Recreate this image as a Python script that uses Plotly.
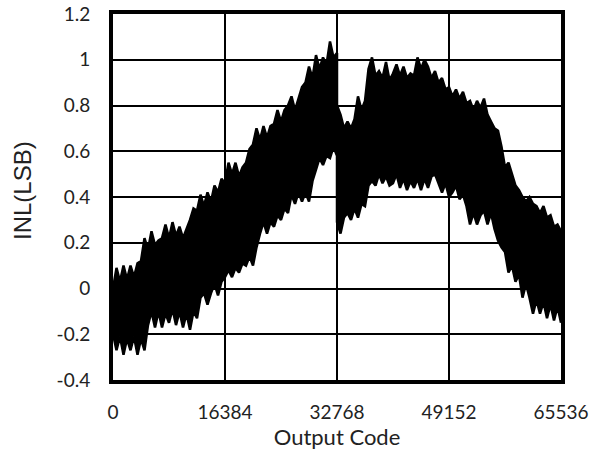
import plotly.graph_objects as go

# Output code positions (step 512 codes); 32768 appears twice for the jump there
codes = list(range(0, 32769, 512)) + list(range(32768, 65537, 512))

# Upper envelope of the INL band (LSB)
inl_upper = [
    0.00, 0.09, 0.03, 0.10, 0.04, 0.10, 0.05, 0.11, 0.12, 0.22,
    0.17, 0.25, 0.19, 0.21, 0.22, 0.28, 0.22, 0.29, 0.23, 0.27,
    0.22, 0.26, 0.30, 0.35, 0.34, 0.41, 0.36, 0.42, 0.38, 0.45,
    0.42, 0.48, 0.46, 0.55, 0.50, 0.55, 0.49, 0.53, 0.55, 0.61,
    0.63, 0.70, 0.65, 0.71, 0.66, 0.71, 0.72, 0.78, 0.73, 0.78,
    0.80, 0.84, 0.78, 0.83, 0.88, 0.90, 0.97, 0.92, 1.02, 0.96,
    1.01, 0.98, 1.08, 1.01, 1.03,
    0.80, 0.76, 0.70, 0.73, 0.70, 0.74,
    0.84, 0.78, 0.82, 0.96, 1.01, 0.93, 0.95, 0.92, 0.99, 0.91,
    0.94, 0.98, 0.93, 0.97, 0.92, 0.94, 0.93, 1.01, 0.96, 1.00,
    0.97, 0.92, 0.95, 0.90, 0.92, 0.87, 0.88, 0.84, 0.87, 0.83,
    0.86, 0.81, 0.82, 0.78, 0.82, 0.79, 0.83, 0.76, 0.73, 0.70,
    0.69, 0.62, 0.53, 0.55, 0.50, 0.45, 0.43, 0.40, 0.38, 0.40,
    0.37, 0.36, 0.33, 0.36, 0.31, 0.32, 0.27, 0.28, 0.25,
]

# Lower envelope of the INL band (LSB)
inl_lower = [
    -0.20, -0.27, -0.21, -0.29, -0.22, -0.27, -0.21, -0.29, -0.22, -0.27,
    -0.16, -0.10, -0.17, -0.10, -0.17, -0.11, -0.15, -0.09, -0.16, -0.10,
    -0.17, -0.11, -0.18, -0.10, -0.13, -0.04, -0.02, -0.07, -0.02, 0.02,
    -0.03, 0.03, 0.05, 0.08, 0.05, 0.09, 0.07, 0.11, 0.10, 0.14,
    0.10, 0.18, 0.24, 0.29, 0.24, 0.29, 0.27, 0.32, 0.30, 0.35,
    0.33, 0.41, 0.37, 0.42, 0.38, 0.42, 0.38, 0.47, 0.52, 0.57,
    0.54, 0.58, 0.57, 0.62, 0.58,
    0.29, 0.24, 0.31, 0.33, 0.30, 0.35,
    0.31, 0.37, 0.36, 0.45, 0.47, 0.45, 0.50, 0.46, 0.49, 0.45,
    0.46, 0.50, 0.44, 0.48, 0.43, 0.47, 0.44, 0.48, 0.43, 0.48,
    0.44, 0.49, 0.50, 0.46, 0.42, 0.46, 0.40, 0.42, 0.45, 0.39,
    0.41, 0.36, 0.28, 0.33, 0.28, 0.32, 0.34, 0.28, 0.33, 0.26,
    0.21, 0.18, 0.16, 0.07, 0.10, 0.03, 0.06, -0.04, 0.02, -0.04,
    -0.11, -0.05, -0.11, -0.06, -0.13, -0.07, -0.14, -0.08, -0.15,
]

x_ticks = [0, 16384, 32768, 49152, 65536]
x_tick_text = ["0", "16384", "32768", "49152", "65536"]
y_ticks = [-0.4, -0.2, 0, 0.2, 0.4, 0.6, 0.8, 1.0, 1.2]
y_tick_text = ["-0.4", "-0.2", "0", "0.2", "0.4", "0.6", "0.8", "1", "1.2"]

fig = go.Figure()
fig.add_trace(go.Scatter(
    x=codes, y=inl_lower, mode="lines",
    line=dict(color="black", width=2.5), showlegend=False,
))
fig.add_trace(go.Scatter(
    x=codes, y=inl_upper, mode="lines", fill="tonexty",
    fillcolor="black",
    line=dict(color="black", width=2.5), showlegend=False,
))

font = "Lato, 'Open Sans', sans-serif"
fig.update_layout(
    width=603, height=453,
    margin=dict(l=113, r=42, t=14, b=73),
    paper_bgcolor="white", plot_bgcolor="white",
    font=dict(family=font, size=19, color="#222"),
    xaxis=dict(
        range=[0, 65536], tickvals=x_ticks, ticktext=x_tick_text,
        showgrid=True, gridcolor="black", gridwidth=1.5,
        showline=True, linecolor="black", linewidth=4, mirror=True,
        zeroline=False, ticks="", ticklabelstandoff=12, automargin=False,
        title=dict(text="Output Code", font=dict(size=22), standoff=4),
    ),
    yaxis=dict(
        range=[-0.4, 1.2], tickvals=y_ticks, ticktext=y_tick_text,
        showgrid=True, gridcolor="black", gridwidth=1.5,
        showline=True, linecolor="black", linewidth=4, mirror=True,
        zeroline=False, ticks="", ticklabelstandoff=15, automargin=False,
    ),
    annotations=[dict(
        text="INL(LSB)", textangle=-90, showarrow=False,
        xref="paper", yref="paper", x=(22 - 113) / 448, y=(380 - 191) / 366,
        xanchor="center", yanchor="middle",
        font=dict(family="'Liberation Sans', Arial, sans-serif", size=24, color="#222"),
    )],
)

fig.write_html("out.html")
